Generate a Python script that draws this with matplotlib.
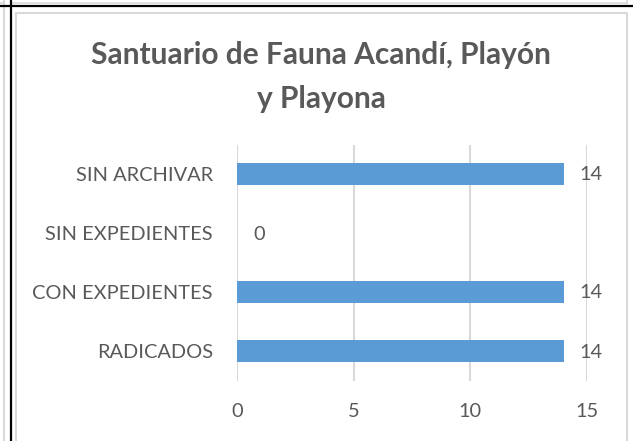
import matplotlib
matplotlib.use("Agg")
import matplotlib.pyplot as plt
from matplotlib.lines import Line2D
from matplotlib.patches import Rectangle

# datos del grafico
categorias = ["RADICADOS", "CON EXPEDIENTES", "SIN EXPEDIENTES", "SIN ARCHIVAR"]
valores = [14, 14, 0, 14]
ticks_x = [0, 5, 10, 15]
titulo = "Santuario de Fauna Acandí, Playón\ny Playona"

W, H = 633, 441
gris_texto = "#595959"
gris_borde = "#d9d9d9"
azul = "#5b9bd5"
fuente = "Lato"


def fx(x):
    return x / W


def fy(y):
    return 1 - y / H


fig = plt.figure(figsize=(W / 100, H / 100), dpi=100)
fig.patch.set_facecolor("white")

# bordes de la tabla alrededor del grafico
fig.add_artist(Line2D([fx(4), fx(4)], [0, 1], color=gris_borde, lw=1.5))
fig.add_artist(Line2D([fx(13), fx(627)], [fy(3), fy(3)], color=gris_borde, lw=1.2))
fig.add_artist(Line2D([fx(627), fx(627)], [fy(3), 1], color=gris_borde, lw=1.2))
fig.add_artist(Line2D([0, fx(4)], [fy(3), fy(3)], color=gris_borde, lw=1.2))
fig.add_artist(Line2D([fx(11), fx(11)], [0, 1], color="black", lw=1.6))
fig.add_artist(Line2D([0, 1], [fy(6), fy(6)], color="black", lw=1.6))

# marco del area del grafico
fig.add_artist(Rectangle((fx(16), -0.05), fx(627) - fx(16), fy(13) + 0.05,
                         transform=fig.transFigure, fill=False,
                         edgecolor=gris_borde, lw=1.5))

ax = fig.add_axes([fx(237), fy(380.5), fx(587) - fx(237), (380.5 - 144.5) / H])
y = range(len(categorias))
ax.barh(y, valores, height=0.37, color=azul, zorder=3)
ax.set_xlim(0, 15)
ax.set_ylim(-0.5, len(categorias) - 0.5)
ax.set_xticks(ticks_x)
ax.set_yticks(list(y))
ax.set_yticklabels(categorias)
ax.grid(axis="x", color=gris_borde, lw=1.5, zorder=0)
for s in ax.spines.values():
    s.set_visible(False)
ax.tick_params(length=0, colors=gris_texto, labelsize=14.4)
ax.tick_params(axis="y", pad=17.3)
ax.tick_params(axis="x", pad=16.5)
for lab in ax.get_xticklabels() + ax.get_yticklabels():
    lab.set_fontfamily(fuente)

for i, v in enumerate(valores):
    ax.annotate(str(v), (v, i), xytext=(16, -1), textcoords="offset pixels",
                ha="left", va="center", fontsize=14.4, color=gris_texto,
                fontfamily=fuente)

fig.text(fx(321), fy(77), titulo, ha="center", va="center", fontsize=21.5,
         fontweight="bold", color=gris_texto, fontfamily=fuente,
         linespacing=1.68)

fig.savefig("out.png", dpi=100)
